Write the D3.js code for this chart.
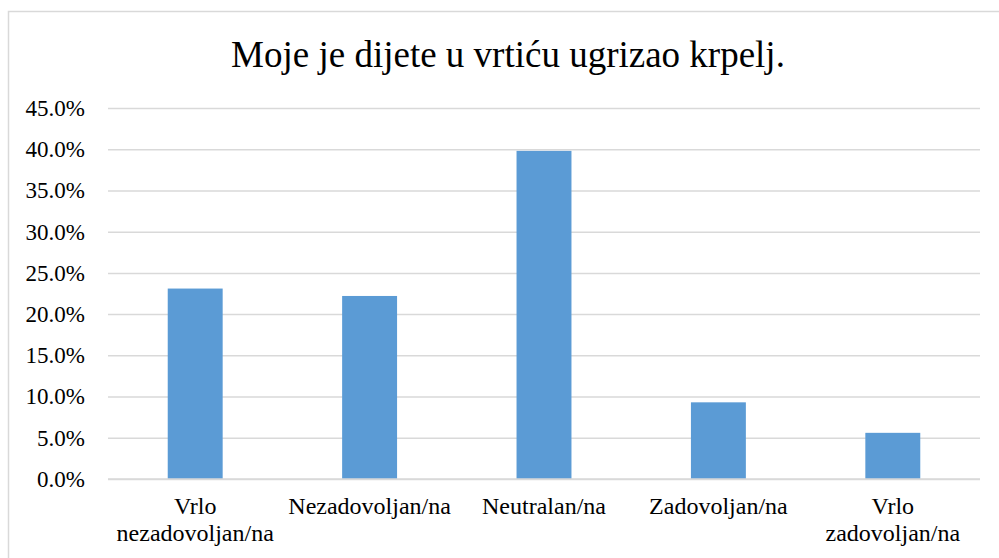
<!DOCTYPE html>
<html>
<head>
<meta charset="utf-8">
<script src="https://cdn.jsdelivr.net/npm/d3@7/dist/d3.min.js"></script>
<style>
	body { margin: 0; background: #fff; }
	svg, svg text { font-family: "Times New Roman", Times, "Liberation Serif", serif; }
	svg { display: block; }
</style>
</head>
<body>
<svg id="chart" width="999" height="558"></svg>
<script>
var title = "Moje je dijete u vrtiću ugrizao krpelj.";
var categories = ["Vrlo nezadovoljan/na", "Nezadovoljan/na", "Neutralan/na", "Zadovoljan/na", "Vrlo zadovoljan/na"];
var values = [23.1, 22.2, 39.8, 9.3, 5.6];
var yTicks = [0, 5, 10, 15, 20, 25, 30, 35, 40, 45];

var svg = d3.select("#chart");
var margin = {left: 108, right: 19, top: 108, bottom: 79};
var width = 999 - margin.left - margin.right;
var height = 558 - margin.top - margin.bottom;

// chart frame
svg.append("rect")
	.attr("x", 8.5).attr("y", 11.5)
	.attr("width", 1010).attr("height", 600)
	.attr("fill", "none")
	.attr("stroke", "#d9d9d9")
	.attr("stroke-width", 1.5);

svg.append("text")
	.attr("x", 508).attr("y", 67)
	.attr("text-anchor", "middle")
	.attr("font-size", 37)
	.attr("fill", "#000")
	.text(title);

var g = svg.append("g").attr("transform", "translate(" + margin.left + "," + margin.top + ")");

var x = d3.scaleBand()
	.domain(categories)
	.range([0, width])
	.paddingInner(0.685)
	.paddingOuter(0.3425);

var y = d3.scaleLinear()
	.domain([0, 45])
	.range([height, 0]);

// gridlines
var yAxis = d3.axisLeft(y)
	.tickValues(yTicks)
	.tickSize(-width)
	.tickPadding(23)
	.tickFormat(function (d) { return d.toFixed(1) + "%"; });

var ya = g.append("g").call(yAxis).attr("font-family", null);
ya.select(".domain").remove();
ya.selectAll(".tick line")
	.attr("stroke", "#d9d9d9")
	.attr("stroke-width", 1.5);
ya.selectAll(".tick text")
	.attr("font-size", 23)
	.attr("fill", "#000")
	.attr("dy", "0.32em");

g.selectAll("rect.bar")
	.data(values)
	.enter().append("rect")
	.attr("class", "bar")
	.attr("x", function (d, i) { return x(categories[i]); })
	.attr("y", function (d) { return y(d); })
	.attr("width", x.bandwidth())
	.attr("height", function (d) { return height - y(d); })
	.attr("fill", "#5b9bd5");

// baseline over bars
g.append("line")
	.attr("x1", 0).attr("x2", width)
	.attr("y1", y(0)).attr("y2", y(0))
	.attr("stroke", "#d9d9d9")
	.attr("stroke-width", 1.5);

// category labels, wrapped to the band step
var step = x.step();
var labels = g.selectAll("text.cat")
	.data(categories)
	.enter().append("text")
	.attr("class", "cat")
	.attr("text-anchor", "middle")
	.attr("font-size", 24)
	.attr("fill", "#000")
	.attr("transform", function (d) { return "translate(" + (x(d) + x.bandwidth() / 2) + "," + (height + 35) + ")"; });

labels.each(function (d) {
	var t = d3.select(this);
	var words = d.split(" ");
	var lines = [];
	var line = [];
	var probe = t.append("tspan");
	words.forEach(function (w) {
		line.push(w);
		probe.text(line.join(" "));
		if (probe.node().getComputedTextLength() > step - 4 && line.length > 1) {
			line.pop();
			lines.push(line.join(" "));
			line = [w];
		}
	});
	lines.push(line.join(" "));
	probe.remove();
	lines.forEach(function (l, i) {
		t.append("tspan").attr("x", 0).attr("dy", i === 0 ? 0 : 27).text(l);
	});
});
</script>
</body>
</html>
